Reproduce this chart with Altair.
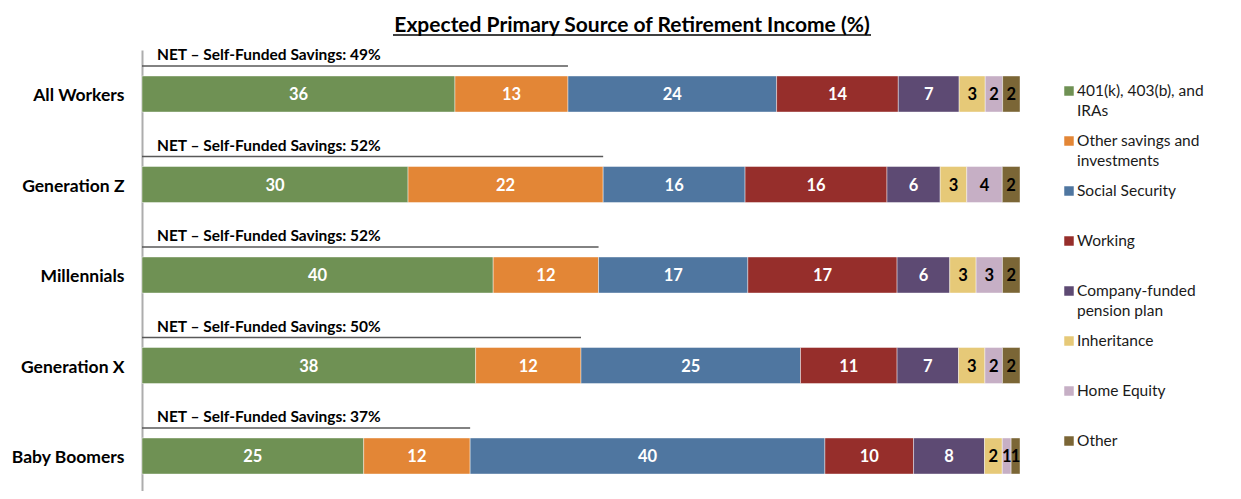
import altair as alt
import pandas as pd

groups = ["All Workers", "Generation Z", "Millennials", "Generation X", "Baby Boomers"]
sources = ["401(k), 403(b), and IRAs", "Other savings and investments", "Social Security",
           "Working", "Company-funded pension plan", "Inheritance", "Home Equity", "Other"]
legend_labels = ["401(k), 403(b), and\nIRAs", "Other savings and\ninvestments", "Social Security",
                 "Working", "Company-funded\npension plan", "Inheritance", "Home Equity", "Other"]

k401 = [36, 30, 40, 38, 25]
other_savings = [13, 22, 12, 12, 12]
social_security = [24, 16, 17, 25, 40]
working = [14, 16, 17, 11, 10]
pension = [7, 6, 6, 7, 8]
inheritance = [3, 3, 3, 3, 2]
home_equity = [2, 4, 3, 2, 1]
other = [2, 2, 2, 2, 1]
net_self_funded = [49, 52, 52, 50, 37]

colors = ["#6F9154", "#E38636", "#4F76A0", "#962E2B", "#5D4A73", "#E6C978", "#C6AFC5", "#7B6636"]
label_colors = ["white", "white", "white", "white", "white", "black", "black", "black"]

series = [k401, other_savings, social_security, working, pension, inheritance, home_equity, other]

rows = []
net_rows = []
for gi, g in enumerate(groups):
    total = sum(s[gi] for s in series)
    cum = 0
    for si, s in enumerate(series):
        v = s[gi]
        x0 = cum / total
        cum += v
        x1 = cum / total
        rows.append({"group": g, "source": sources[si], "value": v, "x0": x0, "x1": x1,
                     "mid": (x0 + x1) / 2, "tc": label_colors[si]})
    net_rows.append({"group": g, "start": 0.0,
                     "end": (k401[gi] + other_savings[gi]) / total,
                     "label": f"NET \u2013 Self-Funded Savings: {net_self_funded[gi]}%"})

df = pd.DataFrame(rows)
net_df = pd.DataFrame(net_rows)
leg_df = pd.DataFrame({"source": sources, "label": legend_labels})

FONT = "Lato"

yscale = alt.Scale(domain=groups, paddingInner=0.602, paddingOuter=0.2375, align=0.605)
xscale = alt.Scale(domain=[0, 1], nice=False, zero=False)
cscale = alt.Scale(domain=sources, range=colors)

ybase = alt.Y("group:N", sort=groups, scale=yscale,
              axis=alt.Axis(title=None, ticks=False, labelFontSize=17.5, labelFontWeight="bold",
                            labelColor="black", labelFont=FONT, labelPadding=18, labelOffset=2,
                            domainColor="#ADADAD", domainWidth=2, grid=False))

bars = alt.Chart(df).mark_bar(stroke="white", strokeWidth=0.6, strokeOpacity=0.7).encode(
    x=alt.X("x0:Q", scale=xscale, axis=None),
    x2="x1:Q",
    y=ybase,
    color=alt.Color("source:N", scale=cscale, legend=None),
)

labels = alt.Chart(df).mark_text(font=FONT, fontSize=16.5, fontWeight="bold", dy=1).encode(
    x=alt.X("mid:Q", scale=xscale, axis=None),
    y=ybase,
    text="value:Q",
    color=alt.Color("tc:N", scale=None),
)

net_rule = alt.Chart(net_df).mark_rule(color="#595959", strokeWidth=1.5, yOffset=-28).encode(
    x=alt.X("start:Q", scale=xscale, axis=None),
    x2="end:Q",
    y=ybase,
)

net_text = alt.Chart(net_df).mark_text(font=FONT, fontSize=15.5, fontWeight="bold", align="left",
                                       dx=15, dy=-39, color="black").encode(
    x=alt.X("start:Q", scale=xscale, axis=None),
    y=ybase,
    text="label:N",
)

main = alt.layer(bars, labels, net_rule, net_text)

lscale = alt.Scale(domain=sources, range=[41, 391], padding=0)
leg_sym = alt.Chart(leg_df).mark_square(size=90, opacity=1).encode(
    x=alt.value(927),
    y=alt.Y("source:N", scale=lscale, axis=None),
    color=alt.Color("source:N", scale=cscale, legend=None),
)
leg_txt = alt.Chart(leg_df).mark_text(font=FONT, fontSize=15.5, align="left", baseline="top",
                                      dy=-7, lineBreak="\n", lineHeight=20, color="#1a1a1a").encode(
    x=alt.value(935),
    y=alt.Y("source:N", scale=lscale, axis=None),
    text="label:N",
)
legend = alt.layer(leg_sym, leg_txt)

underline = alt.Chart(pd.DataFrame({"a": [0]})).mark_rule(color="black", strokeWidth=1.5).encode(
    x=alt.value(251), x2=alt.value(729), y=alt.value(-15)
)

chart = alt.layer(main, legend, underline).resolve_scale(y="independent").properties(
    width=878,
    height=441,
    title=alt.TitleParams("Expected Primary Source of Retirement Income (%)", font=FONT,
                          fontSize=21, fontWeight="bold", color="black", anchor="middle",
                          dx=51, offset=-2),
    autosize=alt.AutoSizeParams(type="none"),
    padding={"left": 134, "top": 42, "right": 213, "bottom": 0},
).configure_view(stroke=None)

chart.save("out.html", embed_options={"renderer": "svg", "actions": False})
